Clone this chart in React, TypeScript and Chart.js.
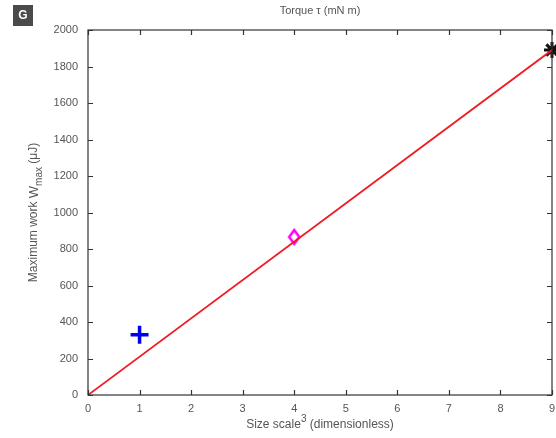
import React, { useEffect, useRef } from "react";
import { Chart, registerables } from "chart.js";

Chart.register(...registerables);

const lineX = [0, 9];
const lineY = [0, 1890];
const plusPoint = [{ x: 1, y: 330 }];
const diamondPoint = [{ x: 4, y: 866 }];
const starPoint = [{ x: 9, y: 1890 }];
const xTicks = [0, 1, 2, 3, 4, 5, 6, 7, 8, 9];
const yTicks = [0, 200, 400, 600, 800, 1000, 1200, 1400, 1600, 1800, 2000];
const topTitle = "Torque τ (mN m)";
const xTitleMain = "Size scale";
const xTitleSup = "3";
const xTitleRest = " (dimensionless)";
const yTitleMain = "Maximum work ";
const yTitleW = "W";
const yTitleSub = "max";
const yTitleRest = " (μJ)";
const badge = "G";

const FONT = "'Liberation Sans', Arial, sans-serif";
const TXT = "#555";

function makeDiamond(): HTMLCanvasElement {
  const c = document.createElement("canvas");
  c.width = 14;
  c.height = 18;
  const g = c.getContext("2d")!;
  g.strokeStyle = "#ff00ff";
  g.lineWidth = 2.5;
  g.beginPath();
  g.moveTo(7, 2);
  g.lineTo(12, 9);
  g.lineTo(7, 16);
  g.lineTo(2, 9);
  g.closePath();
  g.stroke();
  return c;
}

const framePlugin = {
  id: "frame",
  afterDatasetsDraw(chart: any) {
    const { ctx, chartArea: a, scales } = chart;
    const xs = scales.x, ys = scales.y;
    ctx.save();
    ctx.strokeStyle = "#333";
    ctx.lineWidth = 1.2;
    ctx.strokeRect(a.left, a.top, a.right - a.left, a.bottom - a.top);
    const tl = 5;
    ctx.beginPath();
    xTicks.forEach((v) => {
      const px = Math.round(xs.getPixelForValue(v)) + 0.5;
      ctx.moveTo(px, a.bottom); ctx.lineTo(px, a.bottom - tl);
      ctx.moveTo(px, a.top); ctx.lineTo(px, a.top + tl);
    });
    yTicks.forEach((v) => {
      const py = Math.round(ys.getPixelForValue(v)) + 0.5;
      ctx.moveTo(a.left, py); ctx.lineTo(a.left + tl, py);
      ctx.moveTo(a.right, py); ctx.lineTo(a.right - tl, py);
    });
    ctx.stroke();
    ctx.restore();
  },
  afterDraw(chart: any) {
    const { ctx, chartArea: a } = chart;
    ctx.save();
    ctx.fillStyle = TXT;
    ctx.textBaseline = "middle";
    ctx.font = `11px ${FONT}`;
    ctx.textAlign = "center";
    ctx.fillText(topTitle, (a.left + a.right) / 2, 11);
    const cx = (a.left + a.right) / 2;
    const f1 = `12px ${FONT}`, fs = `10px ${FONT}`;
    ctx.font = f1;
    const w1 = ctx.measureText(xTitleMain).width;
    const w3 = ctx.measureText(xTitleRest).width;
    ctx.font = fs;
    const w2 = ctx.measureText(xTitleSup).width;
    let sx = cx - (w1 + w2 + w3) / 2;
    const ty = 425;
    ctx.textAlign = "left";
    ctx.font = f1; ctx.fillText(xTitleMain, sx, ty); sx += w1;
    ctx.font = fs; ctx.fillText(xTitleSup, sx, ty - 6); sx += w2;
    ctx.font = f1; ctx.fillText(xTitleRest, sx, ty);
    ctx.translate(34, (a.top + a.bottom) / 2);
    ctx.rotate(-Math.PI / 2);
    const fw = `13px ${FONT}`;
    ctx.font = f1;
    const m1 = ctx.measureText(yTitleMain).width;
    const m4 = ctx.measureText(yTitleRest).width;
    ctx.font = fw;
    const m2 = ctx.measureText(yTitleW).width;
    ctx.font = fs;
    const m3 = ctx.measureText(yTitleSub).width;
    let yx = -(m1 + m2 + m3 + m4) / 2;
    ctx.font = f1; ctx.fillText(yTitleMain, yx, 0); yx += m1;
    ctx.font = fw; ctx.fillText(yTitleW, yx, 0); yx += m2;
    ctx.font = fs; ctx.fillText(yTitleSub, yx, 5); yx += m3;
    ctx.font = f1; ctx.fillText(yTitleRest, yx, 0);
    ctx.restore();
    ctx.save();
    ctx.fillStyle = "#4a4a4a";
    ctx.fillRect(13, 5, 20, 21);
    ctx.fillStyle = "#fff";
    ctx.font = `bold 12px ${FONT}`;
    ctx.textAlign = "center";
    ctx.textBaseline = "middle";
    ctx.fillText(badge, 23, 16);
    ctx.restore();
  },
};

export default function App() {
  const ref = useRef<HTMLCanvasElement>(null);
  useEffect(() => {
    const chart = new Chart(ref.current!, {
      type: "scatter",
      data: {
        datasets: [
          {
            type: "line",
            data: lineX.map((x, i) => ({ x, y: lineY[i] })),
            borderColor: "#ee1c25",
            borderWidth: 1.8,
            pointRadius: 0,
            fill: false,
          },
          {
            data: plusPoint,
            pointStyle: "cross",
            pointRadius: 9,
            borderColor: "#0000ee",
            backgroundColor: "#0000ee",
            pointBorderWidth: 3.5,
          },
          {
            data: diamondPoint,
            pointStyle: makeDiamond(),
            pointRadius: 7,
            borderColor: "#ff00ff",
            backgroundColor: "rgba(0,0,0,0)",
          },
          {
            data: starPoint,
            pointStyle: "star",
            pointRadius: 8,
            borderColor: "#111",
            backgroundColor: "#111",
            pointBorderWidth: 3,
            clip: false,
          } as any,
        ],
      },
      options: {
        animation: false,
        responsive: false,
        maintainAspectRatio: false,
        layout: { autoPadding: false, padding: { left: 0, top: 30, right: 4, bottom: 0 } },
        plugins: { legend: { display: false }, tooltip: { enabled: false } },
        scales: {
          x: {
            type: "linear",
            min: 0,
            max: 9,
            afterBuildTicks: (s: any) => { s.ticks = xTicks.map((v) => ({ value: v })); },
            afterFit: (s: any) => { s.height = 43; s.paddingRight = 0; s.paddingLeft = 0; },
            grid: { display: false, drawTicks: false },
            border: { display: false },
            ticks: { color: TXT, font: { family: FONT, size: 11 }, padding: 7 },
          },
          y: {
            type: "linear",
            min: 0,
            max: 2000,
            afterBuildTicks: (s: any) => { s.ticks = yTicks.map((v) => ({ value: v })); },
            afterFit: (s: any) => { s.width = 88; s.paddingTop = 0; s.paddingBottom = 0; },
            grid: { display: false, drawTicks: false },
            border: { display: false },
            ticks: {
              color: TXT,
              font: { family: FONT, size: 11 },
              padding: 10,
              callback: (v: any) => String(v),
            },
          },
        },
      },
      plugins: [framePlugin],
    } as any);
    return () => chart.destroy();
  }, []);
  return (
    <div style={{ position: "fixed", left: 0, top: 0, width: 556, height: 438, background: "#fff" }}>
      <canvas ref={ref} width={556} height={438} style={{ display: "block" }} />
    </div>
  );
}
